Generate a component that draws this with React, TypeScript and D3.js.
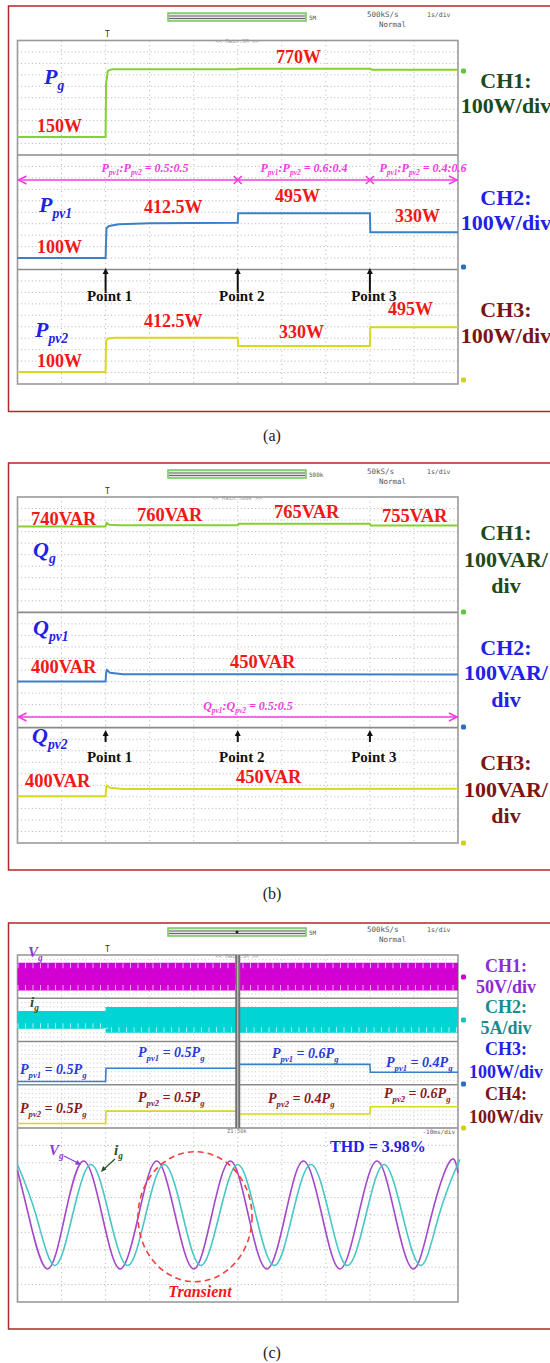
import * as d3 from "d3";

type Pt = [number, number];

// ---- shared time base: 1 s/div, 10 div ----
const timeSpan: Pt = [0, 10];
const eventTimes = [2, 5, 8];
const eventNames = ["Point 1", "Point 2", "Point 3"];

// ---- (a) active power [s, W] ----
const pgA: Pt[] = [[0, 157], [2, 157], [2.01, 620], [2.05, 735], [2.15, 750], [5, 750], [5.05, 753], [8, 753], [8.05, 745], [10, 745]];
const ppv1A: Pt[] = [[0, 100], [2, 100], [2.02, 360], [2.08, 380], [2.3, 395], [3, 405], [5, 408], [5.01, 491], [8, 491], [8.01, 326], [10, 326]];
const ppv2A: Pt[] = [[0, 105], [2, 105], [2.01, 380], [2.06, 398], [2.2, 404], [5, 404], [5.01, 332], [8, 332], [8.01, 496], [10, 496]];

// ---- (b) reactive power [s, VAR] ----
const qgB: Pt[] = [[0, 745], [2, 745], [2.02, 776], [2.08, 760], [2.3, 754], [5, 756], [5.02, 768], [8, 768], [8.02, 752], [10, 752]];
const qpv1B: Pt[] = [[0, 400], [2, 400], [2.01, 470], [2.03, 500], [2.1, 476], [2.4, 463], [10, 462]];
const qpv2B: Pt[] = [[0, 405], [2, 405], [2.01, 470], [2.03, 498], [2.1, 478], [2.4, 468], [10, 470]];

// ---- (c) envelopes [s, peak] and power [s, W] ----
const vgEnvC: Pt[] = [[0, 160], [10, 160]];
const igEnvC: Pt[] = [[0, 10.4], [2, 10.4], [2, 15], [10, 15]];
const ppv1C: Pt[] = [[0, 75], [2, 75], [2.01, 380], [5, 380], [5.01, 470], [8, 470], [8.01, 290], [10, 290]];
const ppv2C: Pt[] = [[0, 105], [2, 105], [2.01, 390], [5, 390], [5.01, 325], [8, 325], [8.01, 490], [10, 490]];

// ---- (c) zoom window: 10 ms/div [ms, V] and [ms, A] ----
const zoomSpan: Pt = [0, 100];
const vgZoom: Pt[] = [[0, 128], [2.5, 0], [6.7, -155], [10.8, 0], [15.0, 155], [19.2, 0], [23.3, -155], [27.5, 0], [31.6, 155], [35.8, 0], [40.0, -155], [44.1, 0], [48.3, 155], [52.4, 0], [56.6, -155], [60.8, 0], [64.9, 155], [69.1, 0], [73.2, -155], [77.4, 0], [81.6, 155], [85.7, 0], [89.9, -155], [94.0, 0], [98.2, 155], [100, 121]];
const igZoom: Pt[] = [[0, 14.5], [4.2, 0], [8.4, -14.5], [12.5, 0], [16.7, 14.5], [20.8, 0], [25.0, -14.5], [29.1, 0], [33.3, 14.5], [37.5, 0], [41.6, -14.5], [45.8, 0], [50.0, 14.5], [54.1, 0], [58.3, -14.5], [62.4, 0], [66.6, 14.5], [70.8, 0], [74.9, -14.5], [79.1, 0], [83.2, 14.5], [87.4, 0], [91.6, -14.5], [95.7, 0], [99.9, 14.5], [100, 14.5]];

const SERIF = "'Liberation Serif', 'Times New Roman', serif";
const MONO = "'DejaVu Sans Mono', monospace";
const RED = "#f01818";
const BLUE = "#1f22e6";
const PINK = "#f23ce0";
const GREEN_T = "#86d030";
const BLUE_T = "#3a80c8";
const YEL_T = "#d8d820";

const X0 = 17.5, X1 = 458;
const xT = d3.scaleLinear().domain(timeSpan).range([X0, X1]);
const xZ = d3.scaleLinear().domain(zoomSpan).range([X0, X1]);

function chScale(ground: number, divPx: number, perDiv: number) {
  return d3.scaleLinear().domain([0, perDiv]).range([ground, ground - divPx]);
}

function tracePath(data: Pt[], y: d3.ScaleLinear<number, number>, x = xT, curve: d3.CurveFactory = d3.curveLinear) {
  return d3.line<Pt>().x((d) => x(d[0])).y((d) => y(d[1])).curve(curve)(data) ?? "";
}

type Part = string | { sub: string };

function Rich({ x, y, parts, size, fill, italic = false, anchor = "start", bold = true }: any) {
  const sh = size * 0.28;
  let low = false;
  return (
    <text x={x} y={y} fontSize={size} fill={fill} fontFamily={SERIF} fontWeight={bold ? "bold" : "normal"}
      fontStyle={italic ? "italic" : "normal"} textAnchor={anchor}>
      {(parts as Part[]).map((p, i) => {
        if (typeof p === "string") {
          const dy = low ? -sh : 0;
          low = false;
          return <tspan key={i} dy={dy}>{p}</tspan>;
        }
        const dy = low ? 0 : sh;
        low = true;
        return <tspan key={i} dy={dy} fontSize={size * 0.62}>{p.sub}</tspan>;
      })}
    </text>
  );
}

function Grid({ y0, y1, rows, color = "#b4b4b4" }: { y0: number; y1: number; rows: number; color?: string }) {
  const rs = d3.range(1, rows).map((k) => y0 + ((y1 - y0) * k) / rows);
  const cs = d3.range(1, 10).map((k) => xT(k));
  return (
    <g stroke={color} strokeWidth={1}>
      {rs.map((y, i) => <line key={"r" + i} x1={X0} x2={X1} y1={y} y2={y} strokeDasharray="1 2.6" />)}
      {cs.map((x, i) => <line key={"c" + i} x1={x} x2={x} y1={y0} y2={y1} strokeDasharray="1 3.5" />)}
    </g>
  );
}

function Header({ top, rate, memo, main, dot = false }: any) {
  return (
    <g fontFamily={MONO} fill="#555" fontSize={7.5}>
      <rect x={168} y={top} width={138} height={8} fill="#e4e4e4" stroke="#72c85a" strokeWidth={1.5} />
      <line x1={169} x2={305} y1={top + 3} y2={top + 3} stroke="#666" />
      <line x1={169} x2={305} y1={top + 5.5} y2={top + 5.5} stroke="#666" />
      {dot && <circle cx={237} cy={top + 4} r={1.5} fill="#222" />}
      <text x={309} y={top + 7} fontSize={6}>{memo}</text>
      <text x={367} y={top + 4}>{rate}</text>
      <text x={427} y={top + 4} fontSize={6.5}>1s/div</text>
      <text x={379} y={top + 14}>Normal</text>
      <text x={105} y={top + 24} fontSize={8} fill="#333">T</text>
      <text x={237} y={top + 30} fontSize={5.5} textAnchor="middle" fill="#999">{main}</text>
    </g>
  );
}

function Marker({ y, color }: { y: number; color: string }) {
  return <rect x={461} y={y - 2.5} width={5} height={5} rx={1.5} fill={color} />;
}

function PointArrows({ base, tip, labelY }: { base: number; tip: number; labelY: number }) {
  return (
    <g>
      {eventTimes.map((t, i) => (
        <g key={i}>
          <line x1={xT(t)} x2={xT(t)} y1={base} y2={tip + 5} stroke="#111" strokeWidth={2} />
          <path d={`M${xT(t) - 3},${tip + 6} L${xT(t)},${tip} L${xT(t) + 3},${tip + 6} Z`} fill="#111" />
          <text x={xT(t) + 4} y={labelY} textAnchor="middle" fontFamily={SERIF} fontWeight="bold" fontSize={15} fill="#111">
            {eventNames[i]}
          </text>
        </g>
      ))}
    </g>
  );
}

function PinkArrow({ y, crosses }: { y: number; crosses: number[] }) {
  const a = xT(0) + 1, b = xT(10) - 1;
  return (
    <g stroke={PINK} strokeWidth={1.6} fill="none">
      <line x1={a} x2={b} y1={y} y2={y} />
      <path d={`M${a + 8},${y - 4} L${a},${y} L${a + 8},${y + 4}`} />
      <path d={`M${b - 8},${y - 4} L${b},${y} L${b - 8},${y + 4}`} />
      {crosses.map((t, i) => (
        <path key={i} d={`M${xT(t) - 4},${y - 4} L${xT(t) + 4},${y + 4} M${xT(t) - 4},${y + 4} L${xT(t) + 4},${y - 4}`} />
      ))}
    </g>
  );
}

// channel captions on the right, centred in the margin
function ChLabel({ lines, ys, color, size = 22 }: { lines: string[]; ys: number[]; color: string; size?: number }) {
  return (
    <g fontFamily={SERIF} fontWeight="bold" fontSize={size} fill={color} textAnchor="middle">
      {lines.map((l, i) => <text key={i} x={506} y={ys[i]}>{l}</text>)}
    </g>
  );
}

export default function App() {
  // panel (a)
  const aTop = 40.5, aBot = 384, aZone = (aBot - aTop) / 3, aDiv = aZone / 10;
  const yPgA = chScale(aTop + aZone, aDiv, 100);
  const yP1A = chScale(aTop + 2 * aZone, aDiv, 100);
  const yP2A = chScale(aBot, aDiv, 100);
  // panel (b)
  const bTop = 497, bBot = 843, bZone = (bBot - bTop) / 3, bDiv = bZone / 10;
  const yQgB = chScale(bTop + bZone, bDiv, 100);
  const yQ1B = chScale(bTop + 2 * bZone, bDiv, 100);
  const yQ2B = chScale(bBot, bDiv, 100);
  // panel (c)
  const cTop = 955, cMid = 1128, cBot = 1302, cZone = (cMid - cTop) / 4, cDiv = cZone / 10, zDiv = (cBot - cMid) / 10;
  const yVgC = chScale(cTop + cZone / 2, cDiv, 50);
  const yIgC = chScale(cTop + 1.5 * cZone, cDiv, 5);
  const yP1C = chScale(cTop + 3 * cZone, cDiv, 100);
  const yP2C = chScale(cMid, cDiv, 100);
  const zMid = (cMid + cBot) / 2;
  const yVgZ = chScale(zMid, zDiv, 50);
  const yIgZ = chScale(zMid, zDiv, 5);

  const env = (y: d3.ScaleLinear<number, number>) =>
    d3.area<Pt>().x((d) => xT(d[0])).y0((d) => y(-d[1])).y1((d) => y(d[1]));
  const neg = (data: Pt[]) => data.map(([t, v]) => [t, -v] as Pt);

  const frame = (top: number, bot: number) => (
    <rect x={X0} y={top} width={X1 - X0} height={bot - top} fill="none" stroke="#9a9a9a" strokeWidth={1.6} />
  );
  const sep = (y: number, k: string) => <line key={k} x1={X0} x2={X1} y1={y} y2={y} stroke="#8a8a8a" strokeWidth={1.6} />;

  return (
    <svg width={550} height={1363} style={{ display: "block", position: "absolute", left: 0, top: 0, background: "#fff" }}>
      {/* ================= (a) ================= */}
      <rect x={8.5} y={6} width={560} height={405.5} fill="none" stroke="#b02828" strokeWidth={1.5} />
      <Header top={13} rate="500kS/s" memo="5M" main="<< Main:5M >>" />
      <Grid y0={aTop} y1={aTop + aZone} rows={10} />
      <Grid y0={aTop + aZone} y1={aTop + 2 * aZone} rows={10} />
      <Grid y0={aTop + 2 * aZone} y1={aBot} rows={10} />
      {sep(aTop + aZone, "a1")}
      {sep(aTop + 2 * aZone, "a2")}
      {frame(aTop, aBot)}
      <path d={tracePath(pgA, yPgA)} fill="none" stroke={GREEN_T} strokeWidth={2} />
      <path d={tracePath(ppv1A, yP1A)} fill="none" stroke={BLUE_T} strokeWidth={2} />
      <path d={tracePath(ppv2A, yP2A)} fill="none" stroke={YEL_T} strokeWidth={2} />
      <Marker y={71} color="#5cc83c" />
      <Marker y={267} color="#2a70c0" />
      <Marker y={380} color="#d0d020" />

      <Rich x={44} y={84} parts={["P", { sub: "g" }]} size={22} fill={BLUE} italic />
      <Rich x={37} y={132} parts={["150W"]} size={18} fill={RED} />
      <Rich x={276} y={63} parts={["770W"]} size={18} fill={RED} />
      <PinkArrow y={180} crosses={[5, 8]} />
      <Rich x={145} y={172} parts={["P", { sub: "pv1" }, ":P", { sub: "pv2" }, " = 0.5:0.5"]} size={12} fill={PINK} italic anchor="middle" />
      <Rich x={304} y={172} parts={["P", { sub: "pv1" }, ":P", { sub: "pv2" }, " = 0.6:0.4"]} size={12} fill={PINK} italic anchor="middle" />
      <Rich x={423} y={172} parts={["P", { sub: "pv1" }, ":P", { sub: "pv2" }, " = 0.4:0.6"]} size={12} fill={PINK} italic anchor="middle" />
      <Rich x={39} y={212} parts={["P", { sub: "pv1" }]} size={22} fill={BLUE} italic />
      <Rich x={144} y={213} parts={["412.5W"]} size={18} fill={RED} />
      <Rich x={275} y={202} parts={["495W"]} size={18} fill={RED} />
      <Rich x={395} y={222} parts={["330W"]} size={18} fill={RED} />
      <Rich x={37} y={253} parts={["100W"]} size={18} fill={RED} />
      <PointArrows base={291} tip={268} labelY={301} />
      <Rich x={35} y={337} parts={["P", { sub: "pv2" }]} size={22} fill={BLUE} italic />
      <Rich x={144} y={327} parts={["412.5W"]} size={18} fill={RED} />
      <Rich x={279} y={338} parts={["330W"]} size={18} fill={RED} />
      <Rich x={388} y={315} parts={["495W"]} size={18} fill={RED} />
      <Rich x={37} y={367} parts={["100W"]} size={18} fill={RED} />
      <ChLabel lines={["CH1:", "100W/div"]} ys={[88, 113]} color="#1d4a1d" />
      <ChLabel lines={["CH2:", "100W/div"]} ys={[205, 230]} color={BLUE} />
      <ChLabel lines={["CH3:", "100W/div"]} ys={[317, 343]} color="#7a1515" />
      <text x={272} y={441} textAnchor="middle" fontFamily={SERIF} fontSize={16} fill="#222">(a)</text>

      {/* ================= (b) ================= */}
      <rect x={8.5} y={463} width={560} height={407} fill="none" stroke="#b02828" strokeWidth={1.5} />
      <Header top={470} rate="50kS/s" memo="500k" main="<< Main:500k >>" />
      <Grid y0={bTop} y1={bTop + bZone} rows={10} />
      <Grid y0={bTop + bZone} y1={bTop + 2 * bZone} rows={10} />
      <Grid y0={bTop + 2 * bZone} y1={bBot} rows={10} />
      {sep(bTop + bZone, "b1")}
      {sep(bTop + 2 * bZone, "b2")}
      {frame(bTop, bBot)}
      <path d={tracePath(qgB, yQgB)} fill="none" stroke={GREEN_T} strokeWidth={2} />
      <path d={tracePath(qpv1B, yQ1B)} fill="none" stroke={BLUE_T} strokeWidth={2} />
      <path d={tracePath(qpv2B, yQ2B)} fill="none" stroke={YEL_T} strokeWidth={2} />
      <Marker y={612} color="#5cc83c" />
      <Marker y={727} color="#2a70c0" />
      <Marker y={843} color="#d0d020" />

      <Rich x={31} y={525} parts={["740VAR"]} size={18.5} fill={RED} />
      <Rich x={137} y={521} parts={["760VAR"]} size={18.5} fill={RED} />
      <Rich x={274} y={518} parts={["765VAR"]} size={18.5} fill={RED} />
      <Rich x={382} y={522} parts={["755VAR"]} size={18.5} fill={RED} />
      <Rich x={33} y={557} parts={["Q", { sub: "g" }]} size={22} fill={BLUE} italic />
      <Rich x={33} y={635} parts={["Q", { sub: "pv1" }]} size={22} fill={BLUE} italic />
      <Rich x={31} y={673} parts={["400VAR"]} size={18.5} fill={RED} />
      <Rich x={230} y={668} parts={["450VAR"]} size={18.5} fill={RED} />
      <PinkArrow y={717} crosses={[]} />
      <Rich x={248} y={710} parts={["Q", { sub: "pv1" }, ":Q", { sub: "pv2" }, " = 0.5:0.5"]} size={12} fill={PINK} italic anchor="middle" />
      <Rich x={32} y={743} parts={["Q", { sub: "pv2" }]} size={22} fill={BLUE} italic />
      <PointArrows base={742} tip={730} labelY={762} />
      <Rich x={25} y={787} parts={["400VAR"]} size={18.5} fill={RED} />
      <Rich x={236} y={783} parts={["450VAR"]} size={18.5} fill={RED} />
      <ChLabel lines={["CH1:", "100VAR/", "div"]} ys={[540, 567, 593]} color="#1d4a1d" />
      <ChLabel lines={["CH2:", "100VAR/", "div"]} ys={[655, 680, 707]} color={BLUE} />
      <ChLabel lines={["CH3:", "100VAR/", "div"]} ys={[770, 797, 823]} color="#7a1515" />
      <text x={272} y={899} textAnchor="middle" fontFamily={SERIF} fontSize={16} fill="#222">(b)</text>

      {/* ================= (c) ================= */}
      <rect x={8.5} y={923} width={560} height={406} fill="none" stroke="#b02828" strokeWidth={1.5} />
      <Header top={928} rate="500kS/s" memo="5M" main="<< Main:5M >>" dot />
      {d3.range(4).map((k) => <Grid key={k} y0={cTop + k * cZone} y1={cTop + (k + 1) * cZone} rows={10} color="#c6c6c6" />)}
      <Grid y0={cMid} y1={cBot} rows={10} />
      {d3.range(1, 5).map((k) => sep(cTop + k * cZone, "c" + k))}
      {frame(cTop, cBot)}
      <path d={env(yVgC)(vgEnvC) ?? ""} fill="#d200d2" />
      <path d={tracePath(vgEnvC, yVgC)} transform="translate(0,3)" fill="none" stroke="#f4a6f4" strokeWidth={5} strokeDasharray="1 6.5" />
      <path d={tracePath(neg(vgEnvC), yVgC)} transform="translate(0,-3)" fill="none" stroke="#f4a6f4" strokeWidth={5} strokeDasharray="1 6.5" />
      <path d={env(yIgC)(igEnvC) ?? ""} fill="#00d4d4" />
      <path d={tracePath(neg(igEnvC), yIgC)} transform="translate(0,-3)" fill="none" stroke="#a6f2f2" strokeWidth={5} strokeDasharray="1 6.5" />
      <path d={tracePath(ppv1C, yP1C)} fill="none" stroke={BLUE_T} strokeWidth={1.6} />
      <path d={tracePath(ppv2C, yP2C)} fill="none" stroke={YEL_T} strokeWidth={1.6} />
      <rect x={xT(5) - 2.5} y={cTop} width={5} height={cMid - cTop} fill="#707070" />
      <line x1={xT(5)} x2={xT(5)} y1={cTop} y2={cMid} stroke="#d0d0d0" strokeWidth={1} />
      <text x={237} y={1133} fontSize={5.5} textAnchor="middle" fill="#777" fontFamily={MONO}>Z1:50k</text>
      <text x={455} y={1134} fontSize={6} textAnchor="end" fill="#555" fontFamily={MONO}>-10ms/div</text>
      <Marker y={977} color="#d000d0" />
      <Marker y={1020} color="#00c8c8" />
      <Marker y={1084} color="#2a70c0" />
      <Marker y={1128} color="#d0d020" />

      <path d={tracePath(vgZoom, yVgZ, xZ, d3.curveNatural)} fill="none" stroke="#a448c8" strokeWidth={1.6} />
      <path d={tracePath(igZoom, yIgZ, xZ, d3.curveNatural)} fill="none" stroke="#48c6c6" strokeWidth={1.6} />

      <Rich x={28} y={957} parts={["V", { sub: "g" }]} size={15} fill="#8a3ad6" italic />
      <Rich x={30} y={1007} parts={["i", { sub: "g" }]} size={15} fill="#2d4d2d" italic />
      <Rich x={20} y={1074} parts={["P", { sub: "pv1" }, " = 0.5P", { sub: "g" }]} size={14} fill="#2a3ad8" italic />
      <Rich x={138} y={1057} parts={["P", { sub: "pv1" }, " = 0.5P", { sub: "g" }]} size={14} fill="#2a3ad8" italic />
      <Rich x={272} y={1058} parts={["P", { sub: "pv1" }, " = 0.6P", { sub: "g" }]} size={14} fill="#2a3ad8" italic />
      <Rich x={386} y={1067} parts={["P", { sub: "pv1" }, " = 0.4P", { sub: "g" }]} size={14} fill="#2a3ad8" italic />
      <Rich x={20} y={1113} parts={["P", { sub: "pv2" }, " = 0.5P", { sub: "g" }]} size={14} fill="#8a1a1a" italic />
      <Rich x={138} y={1102} parts={["P", { sub: "pv2" }, " = 0.5P", { sub: "g" }]} size={14} fill="#8a1a1a" italic />
      <Rich x={268} y={1103} parts={["P", { sub: "pv2" }, " = 0.4P", { sub: "g" }]} size={14} fill="#8a1a1a" italic />
      <Rich x={384} y={1098} parts={["P", { sub: "pv2" }, " = 0.6P", { sub: "g" }]} size={14} fill="#8a1a1a" italic />

      <Rich x={330} y={1152} parts={["THD = 3.98%"]} size={16} fill={BLUE} />
      <Rich x={49} y={1155} parts={["V", { sub: "g" }]} size={15} fill="#8a3ad6" italic />
      <line x1={64} y1={1156} x2={78} y2={1163} stroke="#8a3ad6" strokeWidth={1.2} />
      <path d="M81,1165 L75,1164.5 L77.5,1160 Z" fill="#8a3ad6" />
      <Rich x={114} y={1155} parts={["i", { sub: "g" }]} size={15} fill="#2d4d2d" italic />
      <line x1={115} y1={1159} x2={104} y2={1169} stroke="#2d4d2d" strokeWidth={1.2} />
      <path d="M101,1172 L103,1166 L106.5,1169.5 Z" fill="#2d4d2d" />
      <ellipse cx={xZ(40.3)} cy={yVgZ(-5)} rx={57} ry={65} fill="none" stroke="#f04040" strokeWidth={1.6} strokeDasharray="6 4" />
      <Rich x={200} y={1297} parts={["Transient"]} size={16} fill={RED} italic anchor="middle" />

      <ChLabel lines={["CH1:", "50V/div"]} ys={[972, 993]} size={18} color="#8a2bd6" />
      <ChLabel lines={["CH2:", "5A/div"]} ys={[1013, 1034]} size={18} color="#1b8a8a" />
      <ChLabel lines={["CH3:", "100W/div"]} ys={[1055, 1078]} size={18} color={BLUE} />
      <ChLabel lines={["CH4:", "100W/div"]} ys={[1100, 1123]} size={18} color="#7a1515" />
      <text x={272} y={1358} textAnchor="middle" fontFamily={SERIF} fontSize={16} fill="#222">(c)</text>
    </svg>
  );
}
